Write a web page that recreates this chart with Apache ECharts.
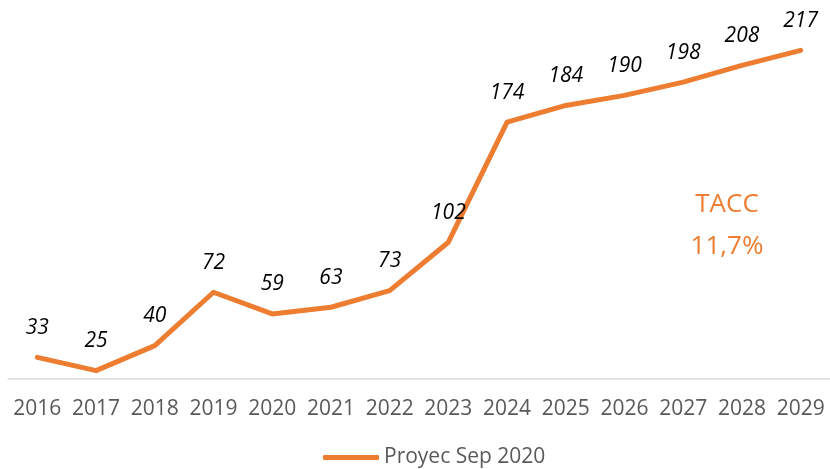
<!DOCTYPE html>
<html><head><meta charset="utf-8">
<script src="https://cdn.jsdelivr.net/npm/echarts@6/dist/echarts.min.js"></script>
<style>html,body{margin:0;padding:0;background:#fff}#c{width:830px;height:469px}</style>
</head><body><div id="c"></div>
<script>
const categories = ['2016','2017','2018','2019','2020','2021','2022','2023','2024','2025','2026','2027','2028','2029'];
const values = [33,25,40,72,59,63,73,102,174,184,190,198,208,217];
const seriesName = 'Proyec Sep 2020';
const noteLines = ['TACC','11,7%'];

const chart = echarts.init(document.getElementById('c'));
const FONT = '"Open Sans", sans-serif';
chart.setOption({
  animation:false,
  grid:{left:8, width:827, top:12, bottom:90},
  xAxis:{type:'category', data:categories, boundaryGap:true,
    axisLine:{lineStyle:{color:'#D9D9D9', width:1.5}},
    axisTick:{show:false},
    axisLabel:{color:'#595959', fontSize:21, fontFamily:FONT, margin:20, interval:0}},
  yAxis:{type:'value', min:20, max:240, show:false, splitLine:{show:false}},
  legend:{top:442, left:318, itemWidth:56, itemHeight:5, icon:'roundRect', itemGap:4,
    textStyle:{color:'#595959', fontSize:21, fontFamily:FONT},
    data:[{name:seriesName, itemStyle:{color:'#ED7D31', opacity:1}}]},
  series:[{name:seriesName, type:'line', data:values, symbol:'circle', symbolSize:2, showSymbol:true,
    lineStyle:{color:'#ED7D31', width:5, cap:'round', join:'round'},
    itemStyle:{color:'#ED7D31'},
    label:{show:true, position:'top', distance:18, color:'#000', fontStyle:'italic',
      fontSize:21, fontFamily:FONT, formatter:'{c}'},
    labelLayout:{hideOverlap:false}}],
  graphic:[
    {type:'text', x:727, y:205, style:{text:noteLines[0], fill:'#ED7D31', font:'26px "Open Sans"', align:'center', verticalAlign:'middle'}},
    {type:'text', x:727, y:247, style:{text:noteLines[1], fill:'#ED7D31', font:'26px "Open Sans"', align:'center', verticalAlign:'middle'}}
  ]
});
</script></body></html>
